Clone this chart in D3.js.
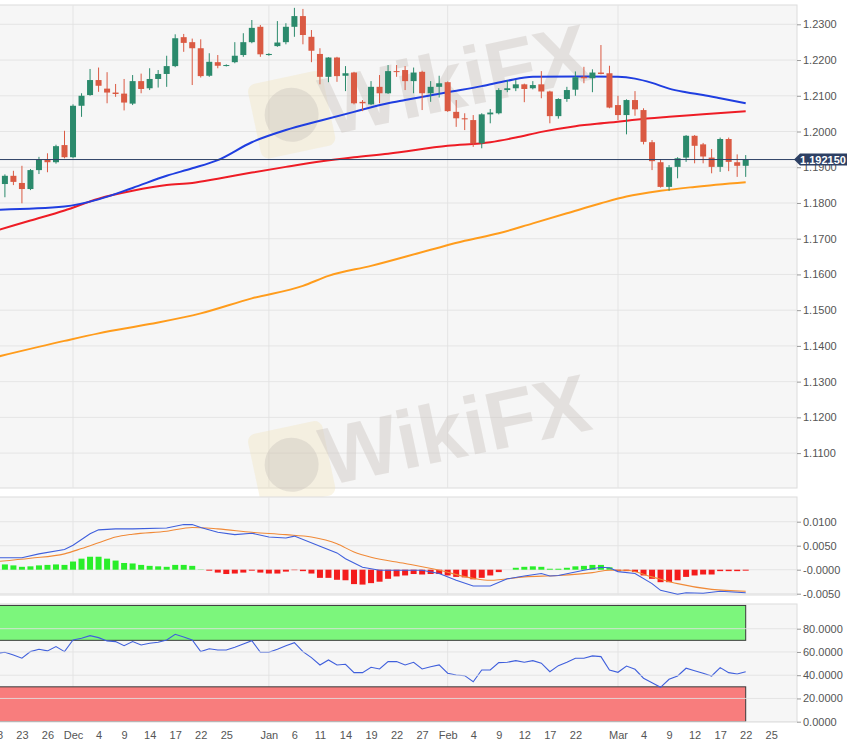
<!DOCTYPE html>
<html>
<head>
<meta charset="utf-8">
<script src="https://cdn.jsdelivr.net/npm/d3@7"></script>
<style>
  html, body { margin: 0; padding: 0; background: #fff; }
  svg { display: block; font-family: "Liberation Sans", Arial, sans-serif; }
</style>
</head>
<body>
<div id="chart"></div>
<script>
'use strict';

// daily EUR/USD, 18 Nov 2020 -> 22 Mar 2021
var days = [
  '2020-11-18','2020-11-19','2020-11-20','2020-11-23','2020-11-24','2020-11-25','2020-11-26','2020-11-27','2020-11-30',
  '2020-12-01','2020-12-02','2020-12-03','2020-12-04','2020-12-07','2020-12-08','2020-12-09','2020-12-10','2020-12-11',
  '2020-12-14','2020-12-15','2020-12-16','2020-12-17','2020-12-18','2020-12-21','2020-12-22','2020-12-23','2020-12-24',
  '2020-12-25','2020-12-28','2020-12-29','2020-12-30','2020-12-31',
  '2021-01-01','2021-01-04','2021-01-05','2021-01-06','2021-01-07','2021-01-08','2021-01-11','2021-01-12','2021-01-13',
  '2021-01-14','2021-01-15','2021-01-18','2021-01-19','2021-01-20','2021-01-21','2021-01-22','2021-01-25','2021-01-26',
  '2021-01-27','2021-01-28','2021-01-29',
  '2021-02-01','2021-02-02','2021-02-03','2021-02-04','2021-02-05','2021-02-08','2021-02-09','2021-02-10','2021-02-11',
  '2021-02-12','2021-02-15','2021-02-16','2021-02-17','2021-02-18','2021-02-19','2021-02-22','2021-02-23','2021-02-24',
  '2021-02-25','2021-02-26',
  '2021-03-01','2021-03-02','2021-03-03','2021-03-04','2021-03-05','2021-03-08','2021-03-09','2021-03-10','2021-03-11',
  '2021-03-12','2021-03-15','2021-03-16','2021-03-17','2021-03-18','2021-03-19','2021-03-22'
];

var open = [
  1.1865,1.1853,1.1876,1.1856,1.1839,1.1892,1.1922,1.1914,1.1962,
  1.1928,1.2072,1.2102,1.2144,1.2120,1.2109,1.2106,1.2078,1.2141,1.2121,1.2147,1.2161,1.2183,1.2264,1.2250,1.2233,1.2156,1.2194,1.2184,1.2194,1.2214,1.2250,1.2293,
  1.2214,1.2239,1.2250,1.2293,1.2323,1.2265,1.2217,1.2153,1.2207,1.2156,1.2165,1.2083,1.2076,1.2125,1.2107,1.2169,1.2172,1.2141,1.2167,1.2107,1.2125,
  1.2138,1.2055,1.2037,1.2032,1.1967,1.2048,1.2051,1.2116,1.2121,1.2132,1.2121,1.2132,1.2112,1.2043,1.2091,1.2117,1.2153,1.2149,1.2165,1.2163,
  1.2074,1.2046,1.2088,1.2060,1.1970,1.1914,1.1845,1.1901,1.1927,1.1988,1.1964,1.1927,1.1901,1.1979,1.1914,1.1904
];
var high = [
  1.1893,1.1880,1.1890,1.1904,1.1895,1.1929,1.1939,1.1963,1.2002,
  1.2076,1.2107,1.2175,1.2179,1.2166,1.2133,1.2147,1.2158,1.2162,1.2177,1.2172,1.2212,1.2272,1.2273,1.2260,1.2258,1.2219,1.2214,1.2188,1.2250,1.2275,1.2312,1.2298,
  1.2219,1.2309,1.2303,1.2346,1.2343,1.2284,1.2233,1.2208,1.2209,1.2183,1.2167,1.2088,1.2141,1.2158,1.2186,1.2186,1.2183,1.2179,1.2170,1.2141,1.2156,
  1.2140,1.2088,1.2051,1.2046,1.2051,1.2063,1.2121,1.2144,1.2144,1.2134,1.2141,1.2169,1.2114,1.2093,1.2125,1.2168,1.2181,1.2174,1.2242,1.2184,
  1.2100,1.2090,1.2113,1.2065,1.1976,1.1923,1.1906,1.1928,1.1990,1.1990,1.1968,1.1951,1.1983,1.1983,1.1936,1.1934
];
var low = [
  1.1840,1.1816,1.1850,1.1799,1.1836,1.1881,1.1886,1.1910,1.1925,
  1.1925,1.2041,1.2100,1.2111,1.2079,1.2097,1.2059,1.2074,1.2107,1.2116,1.2123,1.2125,1.2180,1.2223,1.2130,1.2151,1.2153,1.2177,1.2182,1.2191,1.2209,1.2247,1.2209,
  1.2212,1.2237,1.2244,1.2265,1.2244,1.2194,1.2132,1.2138,1.2139,1.2113,1.2076,1.2057,1.2074,1.2079,1.2105,1.2153,1.2116,1.2107,1.2060,1.2083,1.2095,
  1.2055,1.2013,1.2004,1.1957,1.1953,1.2023,1.2048,1.2110,1.2113,1.2082,1.2118,1.2093,1.2023,1.2036,1.2083,1.2100,1.2135,1.2110,1.2160,1.2065,
  1.2032,1.1992,1.2044,1.1964,1.1892,1.1843,1.1834,1.1869,1.1915,1.1911,1.1911,1.1883,1.1887,1.1889,1.1873,1.1873
];
var close = [
  1.1856,1.1876,1.1859,1.1839,1.1892,1.1921,1.1914,1.1959,1.1928,
  1.2072,1.2100,1.2144,1.2128,1.2109,1.2105,1.2081,1.2141,1.2119,1.2147,1.2161,1.2183,1.2261,1.2248,1.2233,1.2155,1.2195,1.2184,1.2186,1.2212,1.2250,1.2290,1.2216,
  1.2217,1.2249,1.2293,1.2323,1.2270,1.2226,1.2153,1.2207,1.2155,1.2163,1.2079,1.2079,1.2125,1.2107,1.2169,1.2167,1.2141,1.2165,1.2107,1.2125,1.2135,
  1.2057,1.2037,1.2034,1.1967,1.2048,1.2053,1.2116,1.2121,1.2132,1.2119,1.2130,1.2112,1.2043,1.2091,1.2116,1.2152,1.2149,1.2165,1.2161,1.2067,
  1.2046,1.2088,1.2062,1.1971,1.1917,1.1845,1.1900,1.1925,1.1988,1.1960,1.1930,1.1901,1.1979,1.1915,1.1904,1.19215
];
var lastPrice = 1.19215;
var lastPriceLabel = '1.192150';

// moving averages, read at a few dates
var sma50 = [
  ['2020-11-18',1.1781],['2020-11-30',1.1790],['2020-12-04',1.1810],['2020-12-10',1.1842],['2020-12-16',1.1876],
  ['2020-12-21',1.1897],['2020-12-24',1.1920],['2020-12-30',1.1970],['2021-01-05',1.2004],['2021-01-11',1.2030],
  ['2021-01-15',1.2055],['2021-01-21',1.2079],['2021-01-25',1.2088],['2021-02-01',1.2110],['2021-02-05',1.2127],
  ['2021-02-10',1.2142],['2021-02-15',1.2153],['2021-02-22',1.2154],['2021-03-01',1.2153],['2021-03-03',1.2148],
  ['2021-03-05',1.2136],['2021-03-09',1.2120],['2021-03-11',1.2110],['2021-03-15',1.2102],['2021-03-17',1.2093],
  ['2021-03-22',1.2079]
];
var sma100 = [
  ['2020-11-18',1.1723],['2020-11-24',1.1751],['2020-11-30',1.1779],['2020-12-04',1.1812],['2020-12-10',1.1834],
  ['2020-12-16',1.1850],['2020-12-21',1.1856],['2020-12-24',1.1868],['2020-12-30',1.1885],['2021-01-05',1.1901],
  ['2021-01-11',1.1916],['2021-01-15',1.1928],['2021-01-21',1.1938],['2021-02-01',1.1960],['2021-02-08',1.1970],
  ['2021-02-11',1.1983],['2021-02-16',1.1999],['2021-02-22',1.2015],['2021-02-26',1.2025],['2021-03-03',1.2033],
  ['2021-03-09',1.2041],['2021-03-15',1.2048],['2021-03-22',1.2057]
];
var sma200 = [
  ['2020-11-18',1.1369],['2020-11-30',1.1414],['2020-12-04',1.1435],['2020-12-14',1.1461],['2020-12-22',1.1491],
  ['2020-12-30',1.1533],['2021-01-07',1.1568],['2021-01-12',1.1596],['2021-01-19',1.1624],['2021-01-28',1.1669],
  ['2021-02-03',1.1694],['2021-02-09',1.1715],['2021-02-15',1.1743],['2021-02-19',1.1771],['2021-02-25',1.1799],
  ['2021-03-02',1.1818],['2021-03-08',1.1834],['2021-03-12',1.1845],['2021-03-22',1.1858]
];

// MACD
var macdLine = [
  ['2020-11-18',0.0025],['2020-11-23',0.0025],['2020-11-25',0.0033],['2020-11-30',0.0042],['2020-12-01',0.0051],
  ['2020-12-03',0.0075],['2020-12-04',0.0083],['2020-12-08',0.0085],['2020-12-10',0.0085],['2020-12-16',0.0087],
  ['2020-12-18',0.0094],['2020-12-21',0.0094],['2020-12-22',0.0088],['2020-12-24',0.0078],['2020-12-28',0.0073],
  ['2020-12-30',0.0076],['2021-01-01',0.0068],['2021-01-05',0.0066],['2021-01-06',0.0070],['2021-01-11',0.0049],
  ['2021-01-13',0.0035],['2021-01-14',0.0023],['2021-01-18',0.0005],['2021-01-20',-0.0001],['2021-01-27',-0.0001],
  ['2021-01-29',-0.0008],['2021-02-02',-0.0022],['2021-02-04',-0.0034],['2021-02-08',-0.0034],['2021-02-10',-0.0019],
  ['2021-02-12',-0.0013],['2021-02-16',-0.0008],['2021-02-17',-0.0013],['2021-02-18',-0.0012],['2021-02-23',-0.0001],
  ['2021-02-25',0.0005],['2021-02-26',0.0004],['2021-03-01',-0.0004],['2021-03-03',-0.0008],['2021-03-05',-0.0029],
  ['2021-03-08',-0.0043],['2021-03-10',-0.0051],['2021-03-11',-0.0048],['2021-03-15',-0.0049],['2021-03-17',-0.0045],
  ['2021-03-22',-0.0048]
];
var macdSignal = [
  ['2020-11-18',0.0017],['2020-11-24',0.0024],['2020-11-30',0.0033],['2020-12-02',0.0044],['2020-12-04',0.0056],
  ['2020-12-08',0.0068],['2020-12-10',0.0074],['2020-12-16',0.0080],['2020-12-21',0.0088],['2020-12-24',0.0085],
  ['2020-12-30',0.0078],['2021-01-05',0.0073],['2021-01-08',0.0068],['2021-01-13',0.0054],['2021-01-15',0.0037],
  ['2021-01-19',0.0026],['2021-01-25',0.0013],['2021-01-29',-0.0001],['2021-02-04',-0.0018],['2021-02-08',-0.0022],
  ['2021-02-12',-0.0015],['2021-02-18',-0.0012],['2021-02-24',-0.0006],['2021-02-26',-0.0001],['2021-03-02',-0.0001],
  ['2021-03-05',-0.0015],['2021-03-10',-0.0029],['2021-03-16',-0.0041],['2021-03-22',-0.0045]
];
var macdHist = [
  0.0012,0.0011,0.0009,0.0006,0.0007,0.0009,0.0010,0.0011,0.0010,
  0.0017,0.0023,0.0027,0.0027,0.0023,0.0019,0.0014,0.0013,0.0010,0.0008,0.0007,0.0006,0.0010,0.0010,0.0008,0.00005,-0.0002,-0.0006,-0.0009,-0.0008,-0.0006,-0.0002,-0.0006,
  -0.0008,-0.0008,-0.0004,-0.0001,-0.0003,-0.0008,-0.0017,-0.0017,-0.0021,-0.0022,-0.0030,-0.0031,-0.0028,-0.0025,-0.0019,-0.0014,-0.0012,-0.0009,-0.0010,-0.0009,-0.0009,
  -0.0012,-0.0015,-0.0016,-0.0020,-0.0017,-0.0012,-0.0005,0,0.0004,0.0006,0.0007,0.0006,0.0002,0.0002,0.0004,0.0007,0.0008,0.0010,0.0010,0.0005,
  -0.0003,-0.0003,-0.0005,-0.0012,-0.0019,-0.0026,-0.0026,-0.0022,-0.0015,-0.0012,-0.0010,-0.0010,-0.0003,-0.0003,-0.0003,-0.0002
];

// RSI
var rsi = [
  58.9,59.7,57.4,54.6,60.3,62.3,60.9,64.6,60.3,
  70.3,71.8,74.0,72.3,69.5,68.9,65.4,68.9,66.0,67.5,68.3,70.3,75.2,72.9,70.3,60.3,62.8,61.7,61.7,64.0,66.9,69.7,59.7,
  59.7,62.3,65.4,68.0,60.3,55.1,48.8,53.1,48.8,49.4,42.2,42.2,46.8,45.4,51.7,51.7,48.8,51.1,45.4,47.3,48.8,
  41.7,40.2,39.6,34.4,44.5,44.5,50.8,51.1,52.5,51.1,52.5,50.3,43.0,48.2,51.1,54.6,54.6,56.6,56.0,44.5,
  42.5,47.9,45.1,37.4,33.6,29.6,36.5,39.3,46.0,43.9,41.7,39.3,46.5,42.2,41.1,43.0
];
var rsiOverbought = 70;
var rsiOversold = 30;
var rsiMax = 100;

// axis ticks
var priceTicks = [1.11,1.12,1.13,1.14,1.15,1.16,1.17,1.18,1.19,1.20,1.21,1.22,1.23];
var macdTicks = [0.01,0.005,0,-0.005];
var macdTickLabels = ['0.0100','0.0050','-0.0000','-0.0050'];
var rsiTicks = [0,20,40,60,80];
var dateTicks = [
  '2020-11-18','2020-11-23','2020-11-26','2020-12-01','2020-12-04','2020-12-09','2020-12-14','2020-12-17','2020-12-22',
  '2020-12-25','2021-01-01','2021-01-06','2021-01-11','2021-01-14','2021-01-19','2021-01-22','2021-01-27','2021-02-01',
  '2021-02-04','2021-02-09','2021-02-12','2021-02-17','2021-02-22','2021-03-01','2021-03-04','2021-03-09','2021-03-12',
  '2021-03-17','2021-03-22','2021-03-25'
];
var monthStarts = ['2020-12-01','2021-01-01','2021-02-01','2021-03-01'];


var width = 862, height = 748;
var plotRight = 797;
var panels = {
  price: { top: 5,   bottom: 488 },
  macd:  { top: 497, bottom: 595 },
  rsi:   { top: 604, bottom: 722 }
};

var svg = d3.select('#chart').append('svg')
  .attr('width', width)
  .attr('height', height);

// weekday calendar -> slot index (no weekend gaps)
var isoDay = d3.utcFormat('%Y-%m-%d');
var parseDay = d3.utcParse('%Y-%m-%d');
var calendar = d3.utcDay.range(Date.UTC(2020, 10, 18), Date.UTC(2021, 3, 1))
  .filter(function (d) { return d.getUTCDay() !== 0 && d.getUTCDay() !== 6; });
var slot = new Map(calendar.map(function (d, i) { return [isoDay(d), i]; }));

var x = d3.scaleLinear()
  .domain([slot.get('2020-11-19'), slot.get('2021-03-22')])
  .range([4.9, 745.7]);
function xd(s) { return x(slot.get(s)); }

var yPrice = d3.scaleLinear().domain([1.17, 1.23]).range([238.7, 24.3]);
var yMacd = d3.scaleLinear().domain([-0.005, 0.01]).range([593.7, 521.7]);
var yRsi = d3.scaleLinear().domain([0, 80]).range([721.7, 628.7]);

var defs = svg.append('defs');
Object.keys(panels).forEach(function (k) {
  var p = panels[k];
  defs.append('clipPath').attr('id', 'clip-' + k)
    .append('rect')
    .attr('x', 0).attr('y', p.top)
    .attr('width', plotRight).attr('height', p.bottom - p.top);
});

function panelBackground(k) {
  var p = panels[k];
  svg.append('rect')
    .attr('x', -1).attr('y', p.top)
    .attr('width', plotRight + 1).attr('height', p.bottom - p.top)
    .attr('fill', '#f6f6f6')
    .attr('stroke', '#dcdcdc');
  svg.append('g').selectAll('line')
    .data(monthStarts)
    .join('line')
    .attr('x1', function (d) { return xd(d); })
    .attr('x2', function (d) { return xd(d); })
    .attr('y1', p.top).attr('y2', p.bottom)
    .attr('stroke', '#e4e4e4');
}

function hGrid(k, scale, ticks) {
  svg.append('g').attr('clip-path', 'url(#clip-' + k + ')')
    .selectAll('line')
    .data(ticks)
    .join('line')
    .attr('x1', 0).attr('x2', plotRight)
    .attr('y1', function (d) { return scale(d); })
    .attr('y2', function (d) { return scale(d); })
    .attr('stroke', '#e2e2e2')
    .attr('stroke-opacity', 0.85);
}

function rightAxis(scale, ticks, fmt) {
  var g = svg.append('g')
    .attr('transform', 'translate(' + plotRight + ',0)')
    .call(d3.axisRight(scale).tickValues(ticks).tickSize(4).tickPadding(2).tickFormat(fmt));
  g.select('.domain').remove();
  g.selectAll('.tick line').attr('stroke', '#999');
  g.selectAll('.tick text').attr('fill', '#555').attr('font-size', 11)
    .attr('font-family', '"Liberation Sans", Arial, sans-serif');
}

// ---------- price panel ----------
panelBackground('price');
hGrid('price', yPrice, priceTicks);

// watermarks
function watermark(cx, cy, angle) {
  var w = svg.append('g').attr('transform', 'translate(' + cx + ',' + cy + ') rotate(' + angle + ')')
    .attr('pointer-events', 'none');
  w.append('rect').attr('x', -205).attr('y', -38).attr('width', 76).attr('height', 76).attr('rx', 8)
    .attr('fill', '#f1e2b8').attr('opacity', 0.35);
  w.append('circle').attr('cx', -167).attr('cy', 0).attr('r', 27)
    .attr('fill', '#b9b4b0').attr('opacity', 0.3);
  w.append('text').attr('x', 0).attr('y', 28).attr('text-anchor', 'middle')
    .attr('font-size', 82).attr('font-weight', 'bold')
    .attr('fill', '#cbc4bf').attr('opacity', 0.42)
    .text('WikiFX');
}
watermark(455, 80, -12);
watermark(455, 430, -12);

var priceLayer = svg.append('g').attr('clip-path', 'url(#clip-price)');

var maLine = d3.line()
  .x(function (d) { return xd(d[0]); })
  .y(function (d) { return yPrice(d[1]); })
  .curve(d3.curveMonotoneX);

priceLayer.append('path').datum(sma200).attr('d', maLine)
  .attr('fill', 'none').attr('stroke', '#ff9c1c').attr('stroke-width', 2);
priceLayer.append('path').datum(sma100).attr('d', maLine)
  .attr('fill', 'none').attr('stroke', '#ee1c25').attr('stroke-width', 2);
priceLayer.append('path').datum(sma50).attr('d', maLine)
  .attr('fill', 'none').attr('stroke', '#1f3ee0').attr('stroke-width', 2);

var upColor = '#2b8a6c', downColor = '#da5a43';
function candleColor(i) { return close[i] >= open[i] ? upColor : downColor; }

var candles = priceLayer.append('g').selectAll('g')
  .data(days)
  .join('g');
candles.append('line')
  .attr('x1', function (d) { return xd(d); })
  .attr('x2', function (d) { return xd(d); })
  .attr('y1', function (d, i) { return yPrice(high[i]); })
  .attr('y2', function (d, i) { return yPrice(low[i]); })
  .attr('stroke', function (d, i) { return candleColor(i); })
  .attr('stroke-width', 1);
candles.append('rect')
  .attr('x', function (d) { return xd(d) - 3; })
  .attr('width', 6)
  .attr('y', function (d, i) { return yPrice(Math.max(open[i], close[i])); })
  .attr('height', function (d, i) {
    return Math.max(1, Math.abs(yPrice(open[i]) - yPrice(close[i])));
  })
  .attr('fill', function (d, i) { return candleColor(i); });

// last price line + tag
svg.append('line')
  .attr('x1', 0).attr('x2', plotRight)
  .attr('y1', yPrice(lastPrice)).attr('y2', yPrice(lastPrice))
  .attr('stroke', '#2c3f64').attr('stroke-width', 1);

rightAxis(yPrice, priceTicks, d3.format('.4f'));

var ly = yPrice(lastPrice);
svg.append('path')
  .attr('d', 'M' + (plotRight - 3) + ',' + ly + 'L' + (plotRight + 3) + ',' + (ly - 6) +
    'L847,' + (ly - 6) + 'L847,' + (ly + 6) + 'L' + (plotRight + 3) + ',' + (ly + 6) + 'Z')
  .attr('fill', '#2d4064');
svg.append('text')
  .attr('x', 823).attr('y', ly + 4)
  .attr('text-anchor', 'middle')
  .attr('font-size', 11).attr('font-weight', 'bold')
  .attr('fill', '#fff')
  .text(lastPriceLabel);

// ---------- MACD panel ----------
panelBackground('macd');
hGrid('macd', yMacd, macdTicks);

var macdLayer = svg.append('g').attr('clip-path', 'url(#clip-macd)');
macdLayer.append('g').selectAll('rect')
  .data(macdHist)
  .join('rect')
  .attr('x', function (d, i) { return xd(days[i]) - 3; })
  .attr('width', 6)
  .attr('y', function (d) { return Math.min(yMacd(0), yMacd(d)); })
  .attr('height', function (d) { return Math.abs(yMacd(d) - yMacd(0)); })
  .attr('fill', function (d) { return d >= 0 ? '#2aee2a' : '#f41c1c'; });

var macdPath = d3.line()
  .x(function (d) { return xd(d[0]); })
  .y(function (d) { return yMacd(d[1]); });
macdLayer.append('path').datum(macdSignal)
  .attr('d', macdPath.curve(d3.curveMonotoneX))
  .attr('fill', 'none').attr('stroke', '#f08a38').attr('stroke-width', 1.1);
macdLayer.append('path').datum(macdLine)
  .attr('d', macdPath.curve(d3.curveLinear))
  .attr('fill', 'none').attr('stroke', '#3f5fdc').attr('stroke-width', 1.1);

rightAxis(yMacd, macdTicks, function (d, i) { return macdTickLabels[i]; });

// ---------- RSI panel ----------
panelBackground('rsi');
var rsiLayer = svg.append('g').attr('clip-path', 'url(#clip-rsi)');
var bandRight = xd(days[days.length - 1]);
rsiLayer.append('rect')
  .attr('x', -2).attr('width', bandRight + 2)
  .attr('y', yRsi(rsiMax)).attr('height', yRsi(rsiOverbought) - yRsi(rsiMax))
  .attr('fill', '#7cf67c').attr('stroke', '#3a3a3a').attr('stroke-width', 1);
rsiLayer.append('rect')
  .attr('x', -2).attr('width', bandRight + 2)
  .attr('y', yRsi(rsiOversold)).attr('height', yRsi(0) - yRsi(rsiOversold))
  .attr('fill', '#f87d7d').attr('stroke', '#3a3a3a').attr('stroke-width', 1);
hGrid('rsi', yRsi, rsiTicks);

rsiLayer.append('path').datum(rsi)
  .attr('d', d3.line()
    .x(function (d, i) { return xd(days[i]); })
    .y(function (d) { return yRsi(d); }))
  .attr('fill', 'none').attr('stroke', '#3f5fdc').attr('stroke-width', 1.1);

rightAxis(yRsi, rsiTicks, d3.format('.4f'));

// ---------- date axis ----------
var monthName = d3.utcFormat('%b');
var dayNum = d3.utcFormat('%-d');
var xAxis = svg.append('g')
  .attr('transform', 'translate(0,' + panels.rsi.bottom + ')')
  .call(d3.axisBottom(x)
    .tickValues(dateTicks.map(function (s) { return slot.get(s); }))
    .tickSize(0)
    .tickPadding(9)
    .tickFormat(function (d, i) {
      var dt = parseDay(dateTicks[i]);
      return dt.getUTCDate() === 1 ? monthName(dt) : dayNum(dt);
    }));
xAxis.select('.domain').remove();
xAxis.selectAll('.tick text').attr('fill', '#555').attr('font-size', 11)
  .attr('font-family', '"Liberation Sans", Arial, sans-serif');
</script>
</body>
</html>
